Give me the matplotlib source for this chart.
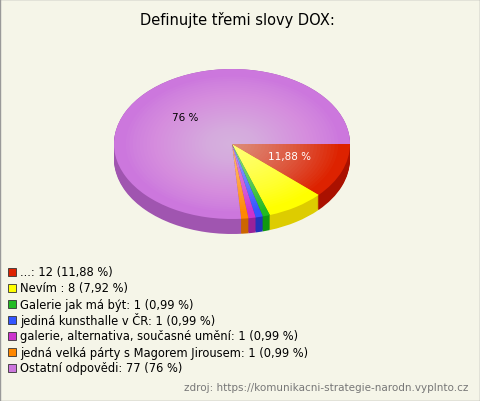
import matplotlib.pyplot as plt
from matplotlib.patches import Wedge, Rectangle
import numpy as np

labels = ["...: 12 (11,88 %)", "Nevím : 8 (7,92 %)", "Galerie jak má být: 1 (0,99 %)",
          "jediná kunsthalle v ČR: 1 (0,99 %)", "galerie, alternativa, současné umění: 1 (0,99 %)",
          "jedná velká párty s Magorem Jirousem: 1 (0,99 %)", "Ostatní odpovědi: 77 (76 %)"]
values = [12, 8, 1, 1, 1, 1, 77]
colors = ["#dd2200", "#ffff00", "#22bb22", "#3355ff", "#cc33cc", "#ff8800", "#cc77dd"]
sides = ["#aa1100", "#ddcc00", "#119911", "#2233bb", "#992299", "#cc6600", "#a055b0"]

W, H = 480, 402
fig = plt.figure(figsize=(4.8, 4.02), dpi=100)
fig.patch.set_facecolor("#f5f5e8")
fig.add_artist(Rectangle((0, 0), 1, 1, transform=fig.transFigure, fill=False,
                         edgecolor="#999999", lw=1))

depth = 0.2
ax = fig.add_axes([114 / W, (257 - 75 - 15) / H, 236 / W, 165 / H])
ax.set_xlim(-1, 1)
ax.set_ylim(-1 - depth, 1)
ax.axis("off")

total = sum(values)
angles = []
start = 0.0
for v in values:
    ext = 360.0 * v / total
    angles.append((start - ext, start))
    start -= ext

# side depth
for k in np.linspace(depth, 0, 16):
    for (a0, a1), c in zip(angles, sides):
        ax.add_patch(Wedge((0, -k), 1, a0, a1, color=c, lw=0))
# top face with a soft radial highlight
for (a0, a1), c in zip(angles, colors):
    ax.add_patch(Wedge((0, 0), 1, a0, a1, color=c, lw=0))
for r in np.linspace(0.9, 0.05, 30):
    for (a0, a1) in angles:
        ax.add_patch(Wedge((0, 0), r, a0, a1, color="white", alpha=0.025, lw=0))

fig.text(237 / W, 1 - 20 / H, "Definujte třemi slovy DOX:", ha="center", va="center", fontsize=10.5)
fig.text(185 / W, 1 - 118 / H, "76 %", ha="center", va="center", fontsize=7.5)
fig.text(290 / W, 1 - 157 / H, "11,88 %", ha="center", va="center", fontsize=7.5, color="white")

for i, (lab, c) in enumerate(zip(labels, colors)):
    y = 1 - (273 + 16 * i) / H
    fig.add_artist(Rectangle((8 / W, y - 4 / H), 8 / W, 8 / H, transform=fig.transFigure,
                             facecolor=c, edgecolor="#333333", lw=0.6))
    fig.text(20 / W, y, lab, va="center", fontsize=8.3)

fig.text(468 / W, 1 - 388 / H, "zdroj: https://komunikacni-strategie-narodn.vyplnto.cz",
         ha="right", va="center", fontsize=7.5, color="#777777")

fig.savefig("out.png", dpi=100, facecolor=fig.get_facecolor())
